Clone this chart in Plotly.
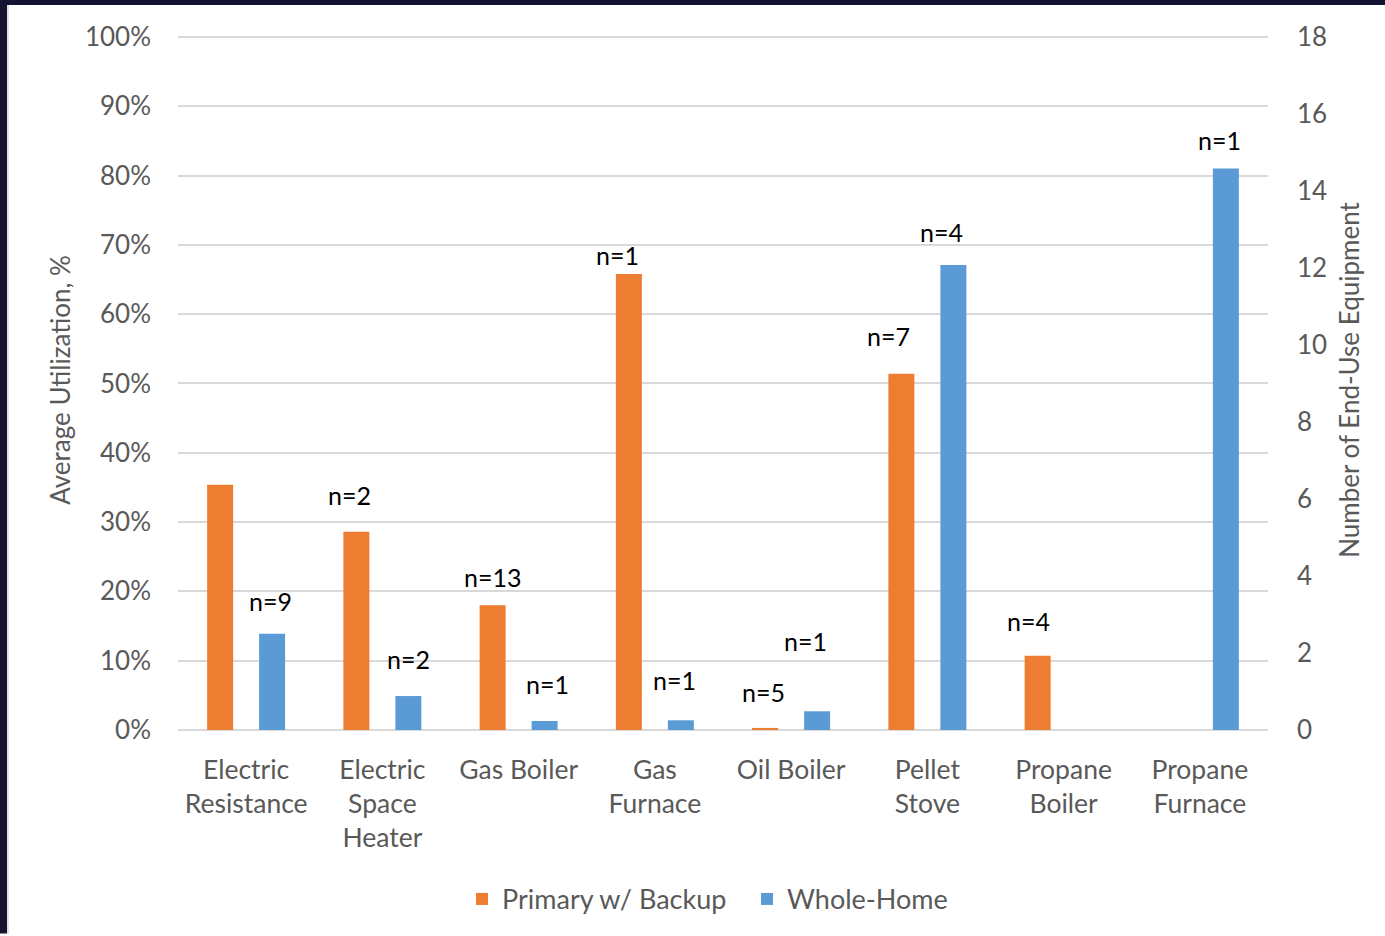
import plotly.graph_objects as go

categories = ["Electric<br>Resistance", "Electric<br>Space<br>Heater", "Gas Boiler",
              "Gas<br>Furnace", "Oil Boiler", "Pellet<br>Stove",
              "Propane<br>Boiler", "Propane<br>Furnace"]
primary_util = [35.4, 28.6, 18.0, 65.8, 0.3, 51.4, 10.7, None]
wholehome_util = [13.9, 4.9, 1.3, 1.4, 2.7, 67.1, None, 81.0]
primary_n = [None, "n=2", "n=13", "n=1", "n=5", "n=7", "n=4", None]
wholehome_n = ["n=9", "n=2", "n=1", "n=1", "n=1", "n=4", None, "n=1"]
pct_ticks = list(range(0, 101, 10))
count_ticks = list(range(0, 19, 2))

ORANGE = "#ED7D31"
BLUE = "#5B9BD5"
FONT = "Lato, Carlito, Calibri, sans-serif"
GREY = "#595959"

W, H = 1385, 936
L, R, T, B = 178, 117, 30, 204
pw, ph = W - L - R, H - T - B
YTOP = 101  # a bit of headroom so the 100% gridline is drawn

fig = go.Figure()
fig.add_trace(go.Bar(x=categories, y=primary_util, name="Primary w/ Backup",
                     marker_color=ORANGE, marker_line_width=0))
fig.add_trace(go.Bar(x=categories, y=wholehome_util, name="Whole-Home",
                     marker_color=BLUE, marker_line_width=0))
# empty trace so the right-hand count axis gets drawn
fig.add_trace(go.Scatter(x=[categories[0]], y=[None], yaxis="y2", showlegend=False,
                         hoverinfo="skip", mode="markers"))

# n= labels sit a little above each bar, nudged by hand like the original
label_shift = {  # (series, category index): (dx, dy) in px
    (0, 1): (-7, 37), (0, 2): (0, 28), (0, 3): (-11, 19), (0, 4): (-2, 36),
    (0, 5): (-13, 38), (0, 6): (-9, 35),
    (1, 0): (-2, 33), (1, 1): (0, 37), (1, 2): (3, 37), (1, 3): (-6, 40),
    (1, 4): (-12, 70), (1, 5): (-12, 33), (1, 7): (-6, 29),
}
annos = []
for s, (series, vals, shift) in enumerate([(primary_n, primary_util, -26),
                                           (wholehome_n, wholehome_util, 26)]):
    for i, (cat, lab, v) in enumerate(zip(categories, series, vals)):
        if lab is None:
            continue
        dx, dy = label_shift.get((s, i), (0, 34))
        annos.append(dict(x=cat, y=v, xref="x", yref="y", text=lab, showarrow=False,
                          xshift=shift + dx, yshift=dy, yanchor="middle",
                          font=dict(family=FONT, size=25, color="black")))

# dark frame on the left and top edges
px2x = lambda p: (p - L) / pw
py2y = lambda p: (H - B - p) / ph
shapes = [
    dict(type="rect", xref="paper", yref="paper", x0=px2x(0), x1=px2x(7), y0=py2y(H), y1=py2y(0),
         fillcolor="#141432", line_width=0),
    dict(type="rect", xref="paper", yref="paper", x0=px2x(0), x1=px2x(W), y0=py2y(5), y1=py2y(0),
         fillcolor="#141432", line_width=0),
    dict(type="line", xref="paper", yref="paper", x0=px2x(8), x1=px2x(8), y0=py2y(H), y1=py2y(5),
         line=dict(color="#e0e0e0", width=2)),
]

fig.update_layout(
    width=W, height=H,
    margin=dict(l=L, r=R, t=T, b=B),
    paper_bgcolor="white", plot_bgcolor="white",
    barmode="group", bargap=0.237, bargroupgap=0.5,
    font=dict(family=FONT, size=26, color=GREY),
    showlegend=True,
    legend=dict(orientation="h", x=px2x(462), xanchor="left", y=-0.242, yanchor="middle",
                font=dict(family=FONT, size=27, color=GREY), itemwidth=30,
                entrywidth=240, traceorder="normal"),
    annotations=annos,
    shapes=shapes,
    xaxis=dict(showgrid=False, showline=False, tickfont=dict(size=26.5, color=GREY),
               ticklabelstandoff=21),
    yaxis=dict(range=[0, YTOP], tickvals=pct_ticks, ticktext=[f"{t}%" for t in pct_ticks],
               showgrid=True, gridcolor="#d9d9d9",
               gridwidth=2, zeroline=True, zerolinecolor="#d9d9d9", zerolinewidth=2,
               tickfont=dict(size=26, color=GREY), ticklabelstandoff=26,
               title=dict(text="Average Utilization, %", font=dict(size=26, color=GREY), standoff=6)),
    yaxis2=dict(range=[0, 18 * YTOP / 100], tickvals=count_ticks, overlaying="y", side="right",
                showgrid=False, zeroline=False, tickfont=dict(size=26, color=GREY),
                ticklabelstandoff=28,
                title=dict(text="Number of End-Use Equipment", font=dict(size=26, color=GREY),
                           standoff=14)),
)

fig.write_html("out.html", config={"displayModeBar": False},
               post_script="document.body.style.margin='0';")
